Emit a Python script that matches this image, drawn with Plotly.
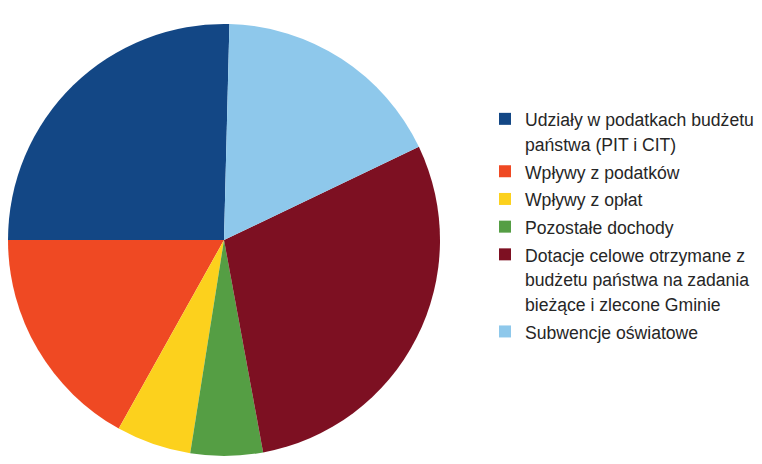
import plotly.graph_objects as go

labels = [
    "Udziały w podatkach budżetu<br>państwa (PIT i CIT)",
    "Wpływy z podatków",
    "Wpływy z opłat",
    "Pozostałe dochody",
    "Dotacje celowe otrzymane z<br>budżetu państwa na zadania<br>bieżące i zlecone Gminie",
    "Subwencje oświatowe",
]
values = [25.4, 16.9, 5.6, 5.4, 29.2, 17.5]
colors = ["#134785", "#EF4923", "#FCD11D", "#559E44", "#7D1022", "#8EC8EB"]

W, H = 762, 464
# page body adds an 8px offset; pie centre in page coords is about (224, 240)
cx, cy, r = 216, 232, 216

legend_text = ["<span style='font-size:17.6px'>" + "</span><br><span style='font-size:17.6px'>".join(l.split("<br>")) + "</span>" for l in labels]

fig = go.Figure(go.Pie(
    labels=legend_text,
    values=values,
    marker=dict(colors=colors, line=dict(width=0)),
    sort=False,
    direction="counterclockwise",
    rotation=270,
    textinfo="none",
    hoverinfo="label+percent",
    domain=dict(x=[max(0, (cx - r) / W), (cx + r) / W], y=[(H - cy - r) / H, (H - cy + r) / H]),
))

fig.update_layout(
    width=W, height=H,
    margin=dict(l=0, r=0, t=0, b=0),
    paper_bgcolor="white",
    plot_bgcolor="white",
    font=dict(family="Liberation Sans, Arial, sans-serif", size=17, color="#262626"),
    legend=dict(
        x=477 / W, xanchor="left",
        y=1 - 92 / H, yanchor="top",
        valign="top",
        bgcolor="rgba(0,0,0,0)",
        font=dict(size=19, color="#262626"),
    ),
)

fig.write_html("out.html")
